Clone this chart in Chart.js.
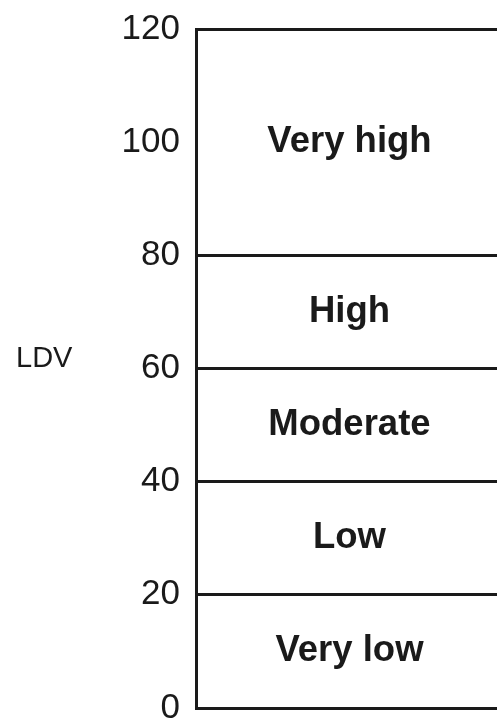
<!DOCTYPE html>
<html>
<head>
<meta charset="utf-8">
<script src="https://cdn.jsdelivr.net/npm/chart.js@4"></script>
<style>
  html, body { margin: 0; padding: 0; background: #fff; }
  #wrap { width: 497px; height: 727px; }
</style>
</head>
<body>
<div id="wrap"><canvas id="ldvChart"></canvas></div>
<script>
// bands of the LDV scale
var bandNames = ['Very low', 'Low', 'Moderate', 'High', 'Very high'];
var bandLow = [0, 20, 40, 60, 80];
var bandHigh = [20, 40, 60, 80, 120];
var tickValues = [0, 20, 40, 60, 80, 100, 120];
var axisTitle = 'LDV';

var ink = '#1a1a1a';
var fontFam = '"Liberation Sans", Arial, Helvetica, sans-serif';

// a grid line only where a band starts or ends
function isBoundary(v) {
  return bandLow.indexOf(v) >= 0 || bandHigh.indexOf(v) >= 0;
}

// band names in the middle of each band, axis title on the left
var bandLabels = {
  id: 'bandLabels',
  afterDraw: function(chart) {
    var ctx = chart.ctx;
    var y = chart.scales.y;
    var area = chart.chartArea;
    var cx = (area.left + area.right) / 2 + 3;
    ctx.save();
    ctx.fillStyle = ink;
    ctx.textAlign = 'center';
    ctx.textBaseline = 'middle';
    ctx.font = 'bold 36.5px ' + fontFam;
    for (var i = 0; i < bandNames.length; i++) {
      var mid = (bandLow[i] + bandHigh[i]) / 2;
      ctx.fillText(bandNames[i], cx, y.getPixelForValue(mid));
    }
    ctx.font = '29px ' + fontFam;
    ctx.textAlign = 'left';
    ctx.fillText(axisTitle, 16, y.getPixelForValue(60) - 10);
    ctx.restore();
  }
};

new Chart(document.querySelector('#ldvChart'), {
  type: 'bar',
  data: {
    labels: [''],
    datasets: [{ data: [], backgroundColor: 'transparent' }]
  },
  plugins: [bandLabels],
  options: {
    animation: false,
    responsive: true,
    maintainAspectRatio: false,
    layout: { padding: { top: 29, bottom: 19, left: 0, right: 0 } },
    plugins: {
      legend: { display: false },
      tooltip: { enabled: false }
    },
    scales: {
      x: { display: false },
      y: {
        min: 0,
        max: 120,
        afterBuildTicks: function(scale) {
          scale.ticks = tickValues.map(function(v) { return { value: v }; });
        },
        afterFit: function(scale) { scale.width = 196; },
        border: { display: true, color: ink, width: 3 },
        grid: {
          drawTicks: true,
          tickLength: 16,
          tickColor: 'rgba(0,0,0,0)',
          lineWidth: 3,
          color: function(c) {
            return isBoundary(c.tick.value) ? ink : 'rgba(0,0,0,0)';
          }
        },
        ticks: {
          padding: 0,
          color: ink,
          font: { family: fontFam, size: 35, lineHeight: 1 }
        }
      }
    }
  }
});
</script>
</body>
</html>
